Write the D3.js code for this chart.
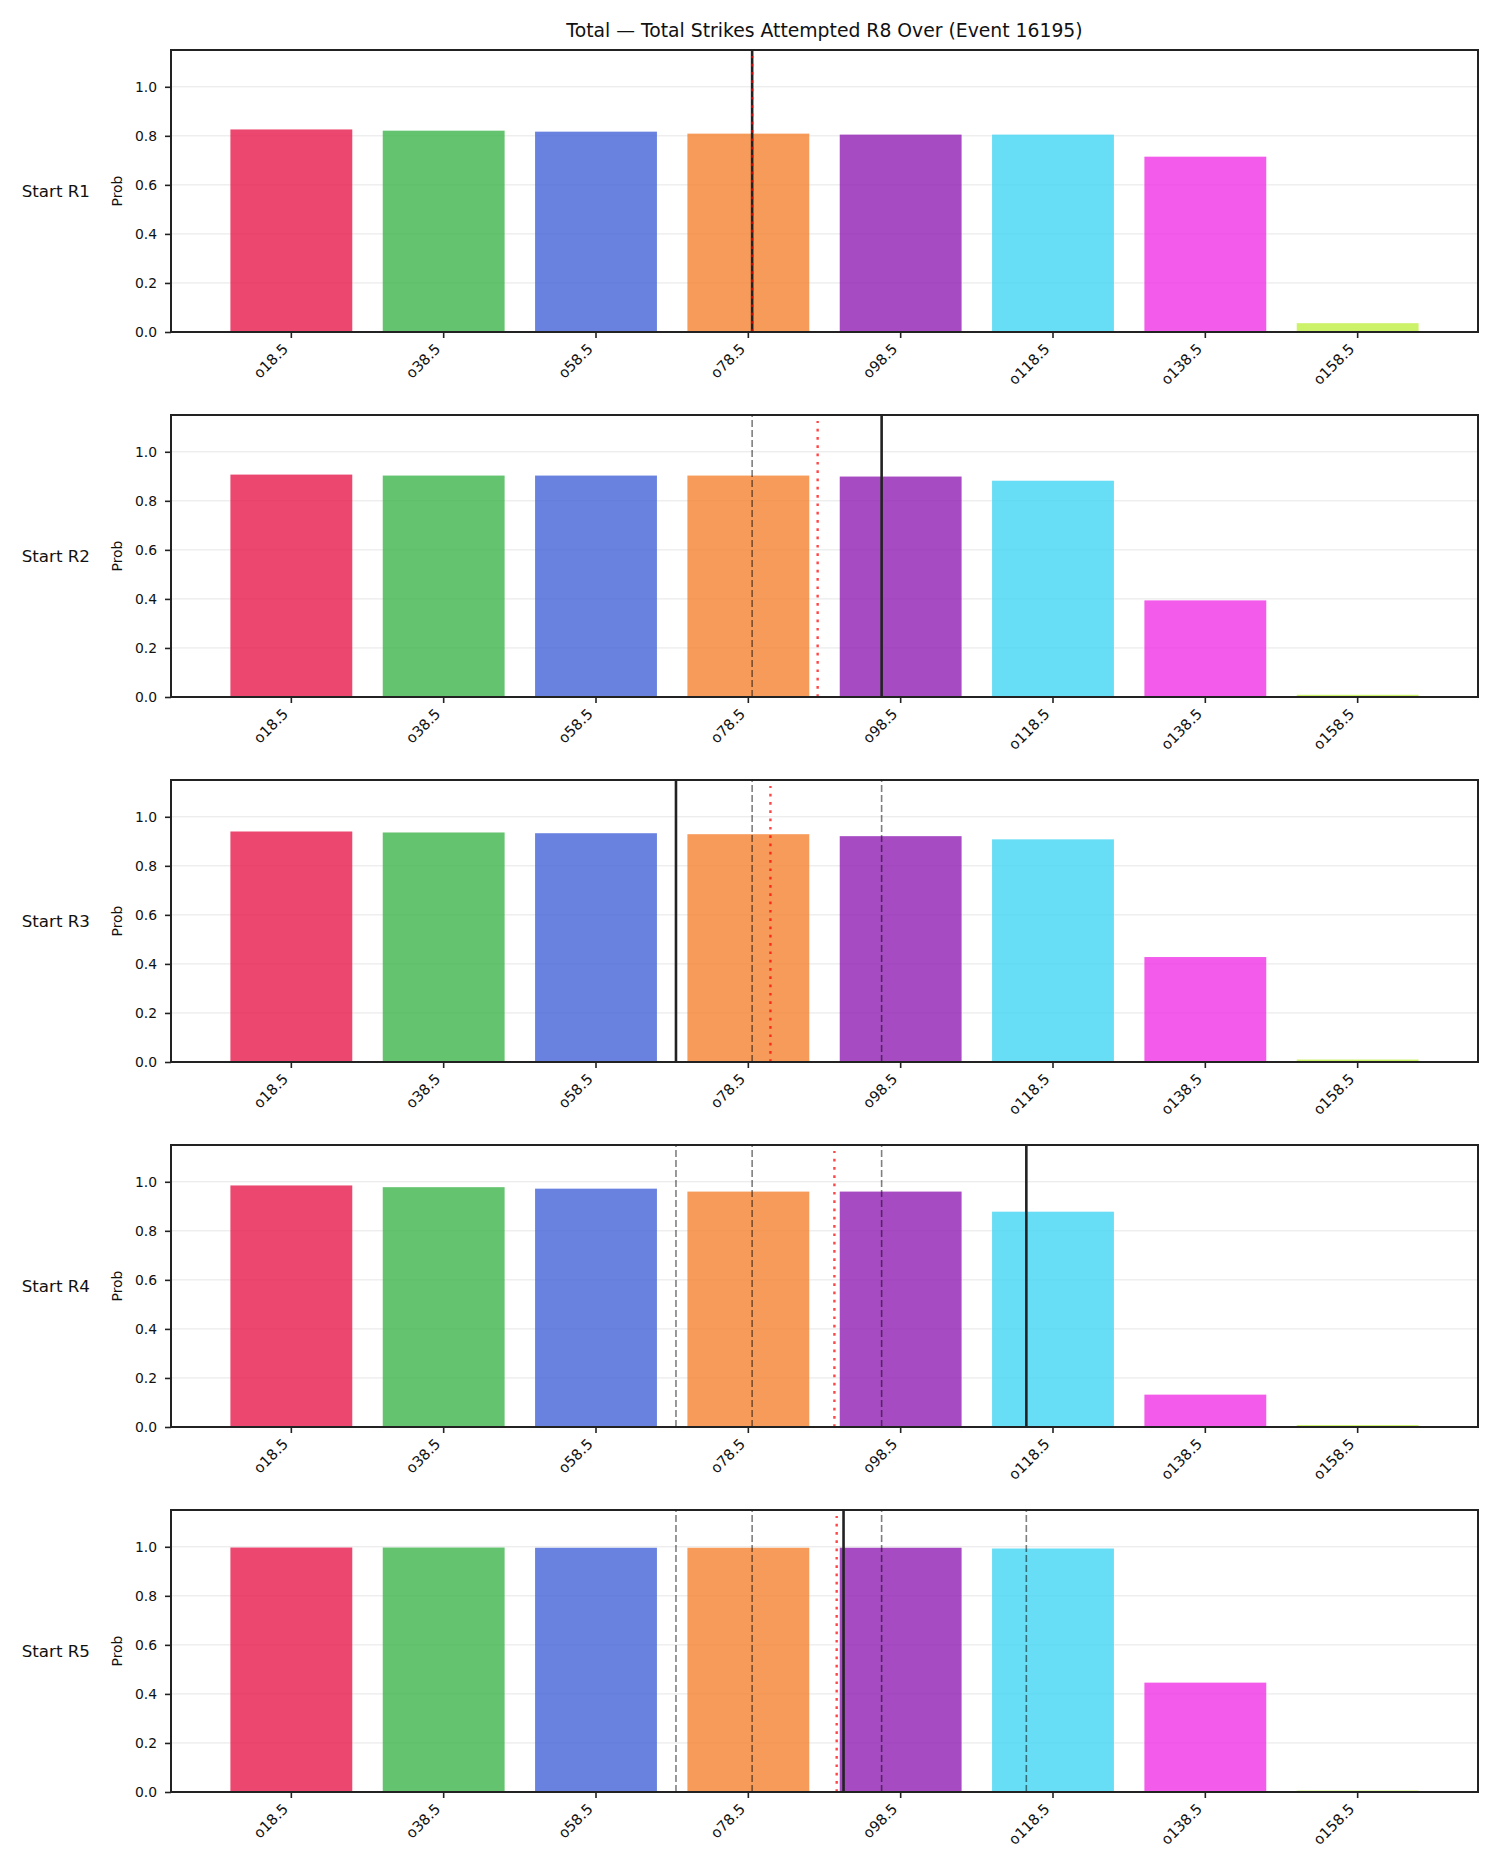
<!DOCTYPE html>
<html>
<head>
<meta charset="utf-8">
<script src="https://cdn.jsdelivr.net/npm/d3@7"></script>
<style>
  body { margin: 0; background: #fff; }
  text { font-family: "DejaVu Sans", sans-serif; fill: #111; }
</style>
</head>
<body>
<div class="chart"></div>
<script>
// categories + values
var cats = ['o18.5', 'o38.5', 'o58.5', 'o78.5', 'o98.5', 'o118.5', 'o138.5', 'o158.5'];
var catValues = [18.5, 38.5, 58.5, 78.5, 98.5, 118.5, 138.5, 158.5];
var rounds = ['Start R1', 'Start R2', 'Start R3', 'Start R4', 'Start R5'];

var probR1 = [0.826, 0.821, 0.817, 0.809, 0.805, 0.805, 0.715, 0.036];
var probR2 = [0.907, 0.903, 0.903, 0.903, 0.899, 0.882, 0.394, 0.009];
var probR3 = [0.940, 0.936, 0.933, 0.929, 0.921, 0.908, 0.428, 0.010];
var probR4 = [0.985, 0.978, 0.972, 0.960, 0.960, 0.878, 0.132, 0.008];
var probR5 = [0.997, 0.997, 0.996, 0.996, 0.996, 0.993, 0.446, 0.006];
var probs = [probR1, probR2, probR3, probR4, probR5];

// solid black line per round, red dotted per round
var solidLine = [79, 96, 69, 115, 91];
var dottedLine = [79, 87.6, 81.4, 89.8, 90.1];

var yTicks = [0.0, 0.2, 0.4, 0.6, 0.8, 1.0];
var colors = ['#e6194B', '#3cb44b', '#4363d8', '#f58231', '#911eb4', '#42d4f4', '#f032e6', '#bfef45'];

var fullWidth = 1500, fullHeight = 1875;
var left = 171, right = 1478;
var panelTop = 50, panelStep = 365, panelH = 282;

var svg = d3.select('.chart')
  .append('svg')
  .attr('width', fullWidth)
  .attr('height', fullHeight);

svg.append('text')
  .attr('x', (left + right) / 2)
  .attr('y', 37)
  .style('text-anchor', 'middle')
  .style('font-size', '18.8px')
  .text('Total \u2014 Total Strikes Attempted R8 Over (Event 16195)');

var xScale = d3.scaleBand()
  .domain(cats)
  .range([left, right])
  .paddingInner(0.2)
  .paddingOuter(0.39);

// map a threshold value onto the category positions
var xVal = d3.scaleLinear()
  .domain([catValues[0], catValues[catValues.length - 1]])
  .range([xScale(cats[0]) + xScale.bandwidth() / 2,
          xScale(cats[cats.length - 1]) + xScale.bandwidth() / 2]);

rounds.forEach(function(name, i) {
  var top = panelTop + i * panelStep;
  var yScale = d3.scaleLinear().domain([0, 1.15]).range([top + panelH, top]);
  var g = svg.append('g');

  // grid
  g.selectAll('.grid')
    .data(yTicks.slice(1))
    .enter()
    .append('line')
    .attr('x1', left).attr('x2', right)
    .attr('y1', d => yScale(d)).attr('y2', d => yScale(d))
    .style('stroke', '#e6e6e6')
    .style('stroke-width', 1);

  // bars
  g.selectAll('.bar')
    .data(probs[i])
    .enter()
    .append('rect')
    .attr('x', (d, j) => xScale(cats[j]))
    .attr('width', xScale.bandwidth())
    .attr('y', d => yScale(d))
    .attr('height', d => yScale(0) - yScale(d))
    .style('fill', (d, j) => colors[j])
    .style('fill-opacity', 0.8);

  // earlier rounds' solid lines, dashed
  g.selectAll('.prev')
    .data(solidLine.slice(0, i))
    .enter()
    .append('line')
    .attr('x1', d => xVal(d)).attr('x2', d => xVal(d))
    .attr('y1', yScale(0)).attr('y2', top)
    .style('stroke', '#000')
    .style('stroke-opacity', 0.5)
    .style('stroke-width', 1.6)
    .style('stroke-dasharray', '7,3');

  g.append('line')
    .attr('x1', xVal(solidLine[i])).attr('x2', xVal(solidLine[i]))
    .attr('y1', yScale(0)).attr('y2', top)
    .style('stroke', '#222')
    .style('stroke-width', 2.6);

  g.append('line')
    .attr('x1', xVal(dottedLine[i])).attr('x2', xVal(dottedLine[i]))
    .attr('y1', yScale(0)).attr('y2', top + 6)
    .style('stroke', 'red')
    .style('stroke-opacity', 0.72)
    .style('stroke-width', 2.4)
    .style('stroke-dasharray', '2.7,5.6');

  // axes
  var yAxis = g.append('g')
    .attr('transform', `translate(${left},0)`)
    .call(d3.axisLeft(yScale).tickValues(yTicks).tickFormat(d3.format('.1f')).tickSize(6).tickPadding(8));
  yAxis.select('.domain').remove();
  yAxis.selectAll('text').style('font-size', '13.9px').style('fill', '#111').style('font-family', '"DejaVu Sans", sans-serif');
  yAxis.selectAll('line').style('stroke', '#222').style('stroke-width', 1.6);

  var xAxis = g.append('g')
    .attr('transform', `translate(0,${top + panelH})`)
    .call(d3.axisBottom(xScale).tickSize(6).tickSizeOuter(0));
  xAxis.select('.domain').remove();
  xAxis.selectAll('line').style('stroke', '#222').style('stroke-width', 1.6);
  xAxis.selectAll('text')
    .attr('y', 0).attr('dy', 0)
    .attr('transform', 'translate(-2.3,18) rotate(-45)')
    .style('text-anchor', 'end')
    .style('font-size', '14.6px')
    .style('fill', '#111')
    .style('font-family', '"DejaVu Sans", sans-serif');

  g.append('rect')
    .attr('x', left).attr('y', top)
    .attr('width', right - left).attr('height', panelH)
    .style('fill', 'none')
    .style('stroke', '#222')
    .style('stroke-width', 2);

  g.append('text')
    .attr('transform', `translate(122,${top + panelH / 2}) rotate(-90)`)
    .style('text-anchor', 'middle')
    .style('font-size', '13.9px')
    .text('Prob');

  g.append('text')
    .attr('x', 90)
    .attr('y', top + panelH / 2 + 6)
    .style('text-anchor', 'end')
    .style('font-size', '16.7px')
    .text(name);
});
</script>
</body>
</html>
